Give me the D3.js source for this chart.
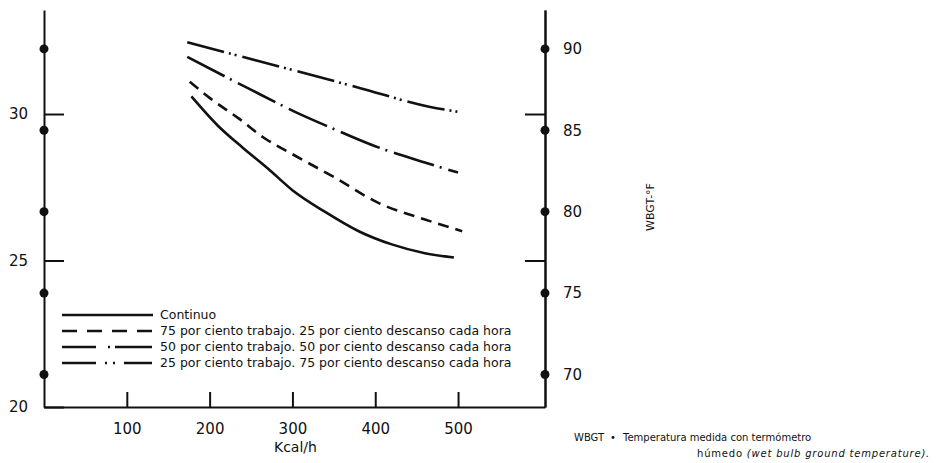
<!DOCTYPE html>
<html>
<head>
<meta charset="utf-8">
<script src="https://cdn.jsdelivr.net/npm/d3@7"></script>
<style>
    html, body { margin: 0; padding: 0; background: #fff; }
    svg { display: block; }
    .num { font-family: "DejaVu Sans", sans-serif; font-size: 15px; fill: #111; }
    .txt { font-family: "DejaVu Sans", sans-serif; fill: #111; }
</style>
</head>
<body>
<svg id="chart"></svg>
<script>
// Tick values
const kcalTicks = [100, 200, 300, 400, 500]
const celsiusTicks = [20, 25, 30]
const fahrenheitTicks = [70, 75, 80, 85, 90]

// Curves: [Kcal/h, WBGT in °C]
const continuo = [[178, 30.6], [210, 29.6], [240, 28.85], [270, 28.15], [300, 27.4], [340, 26.65], [380, 26.0], [420, 25.55], [460, 25.25], [495, 25.1]]
const trabajo75 = [[176, 31.1], [200, 30.55], [235, 29.85], [265, 29.2], [305, 28.55], [350, 27.85], [405, 26.95], [460, 26.4], [505, 26.0]]
const trabajo50 = [[173, 31.95], [245, 30.9], [315, 29.92], [345, 29.55], [400, 28.9], [465, 28.3], [500, 28.0]]
const trabajo25 = [[173, 32.45], [260, 31.8], [380, 30.9], [465, 30.25], [506, 30.05]]

const seriesLabels = [
    'Continuo',
    '75 por ciento trabajo. 25 por ciento descanso cada hora',
    '50 por ciento trabajo. 50 por ciento descanso cada hora',
    '25 por ciento trabajo. 75 por ciento descanso cada hora',
]

const curveDash = ['none', '11 7', '42 6 2 7', '38 5 2 4 2 6']
const legendDash = ['none', '15 10', '34 12 2 5 37 100', '34 9 2 6 2 9 28 100']

const width = 939
const height = 463

const svg = d3.select('#chart')
    .attr('width', width)
    .attr('height', height)
    .attr('viewBox', `0 0 ${width} ${height}`)

svg.append('rect').attr('width', width).attr('height', height).attr('fill', '#fff')

const toF = c => c * 9 / 5 + 32

const xScale = d3.scaleLinear().domain([0, 605]).range([44, 545])
const yScale = d3.scaleLinear().domain([20, 33.55]).range([407, 10])
const yScaleF = d3.scaleLinear().domain([toF(20), toF(33.55)]).range([407, 10])

const axisStyle = g => {
    g.select('.domain').attr('stroke', '#111').attr('stroke-width', 2)
    g.selectAll('.tick line').attr('stroke', '#111').attr('stroke-width', 2)
    g.selectAll('.tick text').attr('class', 'num').attr('fill', '#111')
    g.attr('font-family', null).attr('font-size', null)
}

// Bottom axis, ticks pointing up
svg.append('g')
    .attr('transform', `translate(0,${yScale(20)})`)
    .call(d3.axisBottom(xScale).tickValues(kcalTicks).tickSizeInner(-15).tickSizeOuter(0).tickPadding(16))
    .call(axisStyle)

// Left axis (°C), ticks pointing right
svg.append('g')
    .attr('transform', `translate(${xScale(0)},0)`)
    .call(d3.axisLeft(yScale).tickValues(celsiusTicks).tickSizeInner(-20).tickSizeOuter(0).tickPadding(16))
    .call(axisStyle)

// Right axis (°F) labels
svg.append('g')
    .attr('transform', `translate(${xScale(605)},0)`)
    .call(d3.axisRight(yScaleF).tickValues(fahrenheitTicks).tickSize(0).tickPadding(18))
    .call(axisStyle)

// Right axis °C ticks pointing left
svg.append('g')
    .attr('transform', `translate(${xScale(605)},0)`)
    .call(d3.axisRight(yScale).tickValues([25, 30]).tickSizeInner(-20).tickSizeOuter(0).tickFormat(''))
    .call(axisStyle)

// Fahrenheit dots on both vertical axes
const dots = svg.append('g').attr('fill', '#111')
;[0, 605].forEach(k => {
    dots.selectAll(null)
        .data(fahrenheitTicks)
        .join('circle')
        .attr('cx', xScale(k))
        .attr('cy', d => yScaleF(d))
        .attr('r', 4.5)
})

// Curves
const line = d3.line()
    .x(d => xScale(d[0]))
    .y(d => yScale(d[1]))
    .curve(d3.curveMonotoneX)

svg.append('g')
    .selectAll('path')
    .data([continuo, trabajo75, trabajo50, trabajo25])
    .join('path')
    .attr('d', line)
    .attr('fill', 'none')
    .attr('stroke', '#111')
    .attr('stroke-width', 2.6)
    .attr('stroke-dasharray', (d, i) => curveDash[i])

// Legend
const legend = svg.append('g').attr('transform', 'translate(62,315)')
const rows = legend.selectAll('g')
    .data(seriesLabels)
    .join('g')
    .attr('transform', (d, i) => `translate(0,${i * 16})`)

rows.append('line')
    .attr('x1', 0)
    .attr('x2', 91)
    .attr('stroke', '#111')
    .attr('stroke-width', 2.4)
    .attr('stroke-dasharray', (d, i) => legendDash[i])

rows.append('text')
    .attr('class', 'txt')
    .attr('x', 98)
    .attr('dy', '0.35em')
    .attr('font-size', 12.5)
    .text(d => d)

// Axis titles
svg.append('text')
    .attr('class', 'txt')
    .attr('x', xScale(300) + 3)
    .attr('y', 452)
    .attr('text-anchor', 'middle')
    .attr('font-size', 14)
    .text('Kcal/h')

svg.append('text')
    .attr('class', 'txt')
    .attr('transform', 'translate(654,207) rotate(-90)')
    .attr('text-anchor', 'middle')
    .attr('font-size', 11)
    .text('WBGT-°F')

// Footnote
const note = svg.append('g').attr('class', 'txt').attr('font-size', 10)
note.append('text').attr('x', 574).attr('y', 441).text('WBGT')
note.append('text').attr('x', 610).attr('y', 441).text('•')
note.append('text').attr('x', 623).attr('y', 441).text('Temperatura medida con termómetro')
const note2 = note.append('text').attr('x', 697).attr('y', 457).attr('letter-spacing', 0.8)
note2.append('tspan').text('húmedo ')
note2.append('tspan').attr('font-style', 'italic').text('(wet bulb ground temperature).')
</script>
</body>
</html>
